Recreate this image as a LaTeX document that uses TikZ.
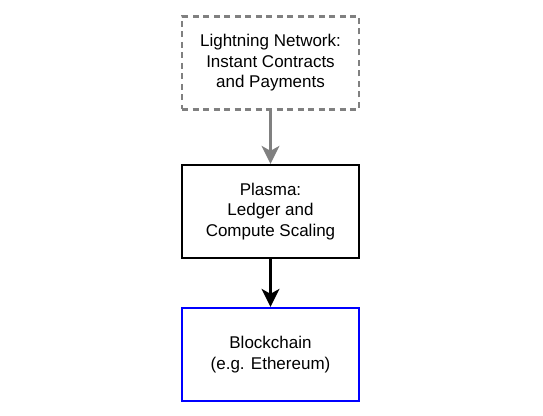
\documentclass[tikz,border=0pt]{standalone}
\usepackage{fontspec}
\setmainfont{Liberation Sans}
\usepackage{xcolor}
\usepackage{tikz}
\usetikzlibrary{arrows.meta}
\definecolor{ink}{HTML}{000000}
\definecolor{muted}{HTML}{808080}
\definecolor{chain}{HTML}{0000FF}
\tikzset{
  layer/.style={draw=ink, line width=2.3pt, minimum width=177pt, minimum height=93pt,
    align=center, font=\fontsize{17}{20.4}\selectfont, inner sep=0pt},
  future/.style={layer, draw=muted, dash pattern=on 6pt off 4.5pt},
  base/.style={layer, draw=chain},
  link/.style={line width=2.3pt, -{Stealth[length=18pt, width=18pt, inset=5pt]}},
}

\begin{document}
\begin{tikzpicture}[x=1pt,y=1pt]
  \useasboundingbox (0,0) rectangle (543,415);
  \node[future] (lightning) at (270.5,352) {Lightning Network:\\Instant Contracts\\and Payments};
  \node[layer] (plasma) at (270.5,203.5) {Plasma:\\Ledger and\\Compute Scaling};
  \node[base] (chain) at (270.5,60.5) {Blockchain\\(e.g. Ethereum)};
  \draw[link, draw=muted, fill=muted] (lightning) -- (plasma);
  \draw[link, draw=ink, fill=ink] (plasma) -- (chain);
\end{tikzpicture}
\end{document}
